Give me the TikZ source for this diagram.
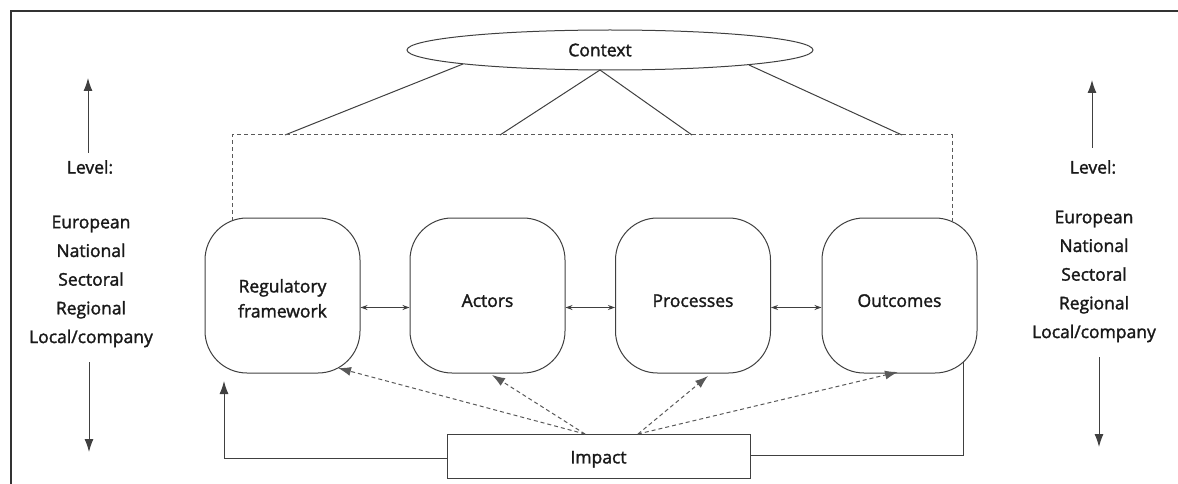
\documentclass[tikz,border=0pt]{standalone}
\usepackage{fontspec}
\setmainfont{Open Sans}[FakeBold=1.7]
\usetikzlibrary{shapes.geometric,arrows.meta}
\newcommand{\lblfont}{\fontsize{17.5}{25}\selectfont}
\newcommand{\lstfont}{\fontsize{17.5}{28.7}\selectfont}
\newcommand{\dn}[1]{\rule{0pt}{#1}}
\begin{document}
\begin{tikzpicture}[x=1pt,y=-1pt,
  ln/.style={draw=black!75, line width=1pt},
  dsh/.style={draw=black!65, line width=1pt, dash pattern=on 4pt off 3pt},
  boxst/.style={draw=black!75, line width=1pt, rounded corners=42pt, minimum width=155pt, minimum height=155pt, align=center, font=\lblfont, text=black!90},
  txt/.style={font=\lblfont, text=black!90, align=center, inner sep=0pt},
  lst/.style={font=\lstfont, text=black!90, align=center, inner sep=0pt},
  bigtip/.style={-{Latex[length=13pt,width=9pt]}},
  dbltip/.style={{Stealth[length=7pt,width=5pt]}-{Stealth[length=7pt,width=5pt]}}
]
\useasboundingbox (0,0) rectangle (1178,484);
% frame
\coordinate (fr1) at (11,484);
\coordinate (fr2) at (11,11);
\coordinate (fr3) at (1178,11);
\draw[draw=black!80, line width=1.3pt] (fr1) -- (fr2) -- (fr3);

% context
\node[ellipse, draw=black!75, line width=1pt, minimum width=406pt, minimum height=40pt, inner sep=0pt, font=\lblfont, text=black!90] (ctx) at (610,50) {\hspace*{-20pt}Context};
\coordinate (c1) at (463,64);
\coordinate (apex) at (600,70);
\coordinate (c4) at (749,65);
\coordinate (d1) at (285,135);
\coordinate (d2) at (500,135);
\coordinate (d3) at (692,135);
\coordinate (d4) at (902,135);
\coordinate (dl) at (232,135);
\coordinate (dr) at (952,135);
\coordinate (dlb) at (232,221);
\coordinate (drb) at (952,221);
\draw[ln] (c1) -- (d1);
\draw[ln] (apex) -- (d2);
\draw[ln] (apex) -- (d3);
\draw[ln] (c4) -- (d4);
\draw[dsh] (dlb) -- (dl) -- (dr) -- (drb);

% boxes
\node[boxst] (b1) at (282.5,295.5) {\dn{19pt}Regulatory\\framework};
\node[boxst] (b2) at (487.5,295.5) {\dn{23pt}Actors};
\node[boxst] (b3) at (693,295.5) {\dn{23pt}Processes};
\node[boxst] (b4) at (899.5,295.5) {\dn{23pt}Outcomes};
\draw[ln, dbltip] ([yshift=-12pt]b1.east) -- ([yshift=-12pt]b2.west);
\draw[ln, dbltip] ([yshift=-12pt]b2.east) -- ([yshift=-12pt]b3.west);
\draw[ln, dbltip] ([yshift=-12pt]b3.east) -- ([yshift=-12pt]b4.west);

% impact
\node[draw=black!75, line width=1pt, minimum width=303pt, minimum height=44pt, font=\lblfont, text=black!90] (imp) at (598.5,456) {\dn{19pt}Impact};
\coordinate (fin) at (224,381);
\coordinate (fout) at (963,362);
\draw[ln, bigtip] ([yshift=-2pt]imp.west) -| (fin);
\draw[ln] ([yshift=1pt]imp.east) -| (fout);
\coordinate (s1) at (585,434);
\coordinate (s2) at (638,434);
\coordinate (t1) at (338,368);
\coordinate (t2) at (492,375);
\coordinate (t3) at (708,376);
\coordinate (t4) at (898,372);
\draw[dsh, bigtip] (s1) -- (t1);
\draw[dsh, bigtip] (s1) -- (t2);
\draw[dsh, bigtip] (s2) -- (t3);
\draw[dsh, bigtip] (s2) -- (t4);

% left levels
\node[txt] (lvL) at (90,167) {Level:};
\node[lst] (lsL) at (91,281.5) {European\\National\\Sectoral\\Regional\\Local/company};
\coordinate (uL1) at (88,153);
\coordinate (uL2) at (88,78);
\coordinate (dL1) at (89,362);
\coordinate (dL2) at (89,452);
\draw[ln, bigtip] (uL1) -- (uL2);
\draw[ln, bigtip] (dL1) -- (dL2);

% right levels
\node[txt] (lvR) at (1093,167) {Level:};
\node[lst] (lsR) at (1094,276.5) {European\\National\\Sectoral\\Regional\\Local/company};
\coordinate (uR1) at (1092,148);
\coordinate (uR2) at (1092,80);
\coordinate (dR1) at (1099,357);
\coordinate (dR2) at (1099,447);
\draw[ln, bigtip] (uR1) -- (uR2);
\draw[ln, bigtip] (dR1) -- (dR2);
\end{tikzpicture}
\end{document}
